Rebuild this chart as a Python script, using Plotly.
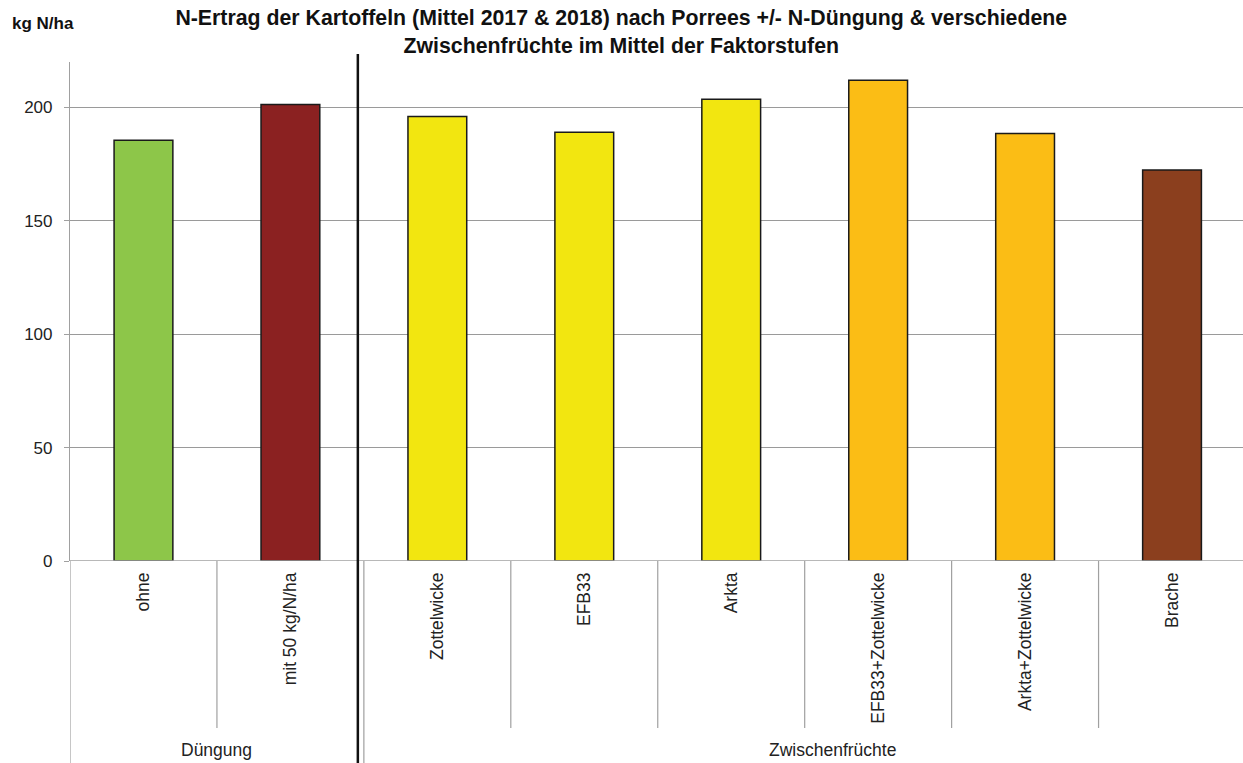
import plotly.graph_objects as go

categories = ["ohne", "mit 50 kg/N/ha", "Zottelwicke", "EFB33", "Arkta",
              "EFB33+Zottelwicke", "Arkta+Zottelwicke", "Brache"]
values = [185.5, 201.3, 196.0, 189.0, 203.6, 212.0, 188.5, 172.4]
colors = ["#8DC649", "#8B2121", "#F2E610", "#F2E610", "#F2E610",
          "#FBBD15", "#FBBD15", "#8B3F1E"]
groups = ["Düngung", "Zwischenfrüchte"]
group_pos = [0.5, 4.69]
y_ticks = [0, 50, 100, 150, 200]

FONT = "Liberation Sans, Arial, sans-serif"
W, H = 1243, 763
L, T, B = 69.5, 62, 202
plot_w = W - L
cat_px = 147.0
xmax = -0.5 + plot_w / cat_px
plot_h = H - T - B

def py(p):
    return (H - B - p) / plot_h

def px(p):
    return (p - L) / plot_w

fig = go.Figure()
fig.add_trace(go.Bar(
    x=list(range(len(categories))), y=values,
    marker=dict(color=colors, line=dict(color="#1a1a1a", width=1.5)),
    width=0.4, showlegend=False, hoverinfo="x+y"))

fig.update_layout(
    width=W, height=H,
    margin=dict(l=L, r=0, t=T, b=B, pad=0),
    paper_bgcolor="white", plot_bgcolor="white",
    font=dict(family=FONT, color="#222"),
    title=dict(text="<b>N-Ertrag der Kartoffeln (Mittel 2017 & 2018) nach Porrees +/- N-Düngung & verschiedene<br>Zwischenfrüchte im Mittel der Faktorstufen</b>",
               x=px(621), xref="paper", xanchor="center",
               y=1 - 25 / H, yanchor="top",
               font=dict(size=21.3, color="#111", family=FONT)),
    xaxis=dict(range=[-0.5, xmax], tickmode="array",
               tickvals=list(range(len(categories))), ticktext=categories,
               tickangle=-90, ticks="", showgrid=False, zeroline=False,
               showline=False, tickfont=dict(size=17.5, color="#222"),
               ticklabelstandoff=7),
    yaxis=dict(range=[0, 220], tickvals=y_ticks, showgrid=True,
               gridcolor="#9a9a9a", gridwidth=1, zeroline=False,
               showline=True, linecolor="#a0a0a0", linewidth=1.2,
               ticks="outside", ticklen=5, tickcolor="#a0a0a0",
               tickfont=dict(size=17, color="#222"), ticklabelstandoff=8),
)

# baseline
fig.add_shape(type="line", xref="paper", yref="y", x0=0, x1=1, y0=0, y1=0,
              line=dict(color="#a0a0a0", width=1.5))
# left axis extension
fig.add_shape(type="line", xref="x", yref="paper", x0=-0.5, x1=-0.5,
              y0=py(763), y1=0, line=dict(color="#a0a0a0", width=1.2))
# category separators
for i in range(len(categories) - 1):
    b = i + 0.5
    y0 = py(763) if i == 1 else py(728)
    fig.add_shape(type="line", xref="x", yref="paper", x0=b, x1=b,
                  y0=y0, y1=0, line=dict(color="#a0a0a0", width=1.2))
# thick separator line between groups
fig.add_shape(type="line", xref="x", yref="paper", x0=1.459, x1=1.459,
              y0=py(763), y1=py(54), line=dict(color="#111", width=2.5))

for g, gp in zip(groups, group_pos):
    fig.add_annotation(text=g, x=gp, xref="x", y=py(750), yref="paper",
                       xanchor="center", yanchor="middle", showarrow=False,
                       font=dict(size=17.5, color="#222"))

fig.add_annotation(text="<b>kg N/ha</b>", x=px(9), xref="paper", y=py(23),
                   yref="paper", showarrow=False, xanchor="left",
                   yanchor="middle", font=dict(size=17, color="#111"))

fig.write_html("out.html", config={"displayModeBar": False},
               post_script="document.body.style.margin='0';document.body.style.overflow='hidden';")
